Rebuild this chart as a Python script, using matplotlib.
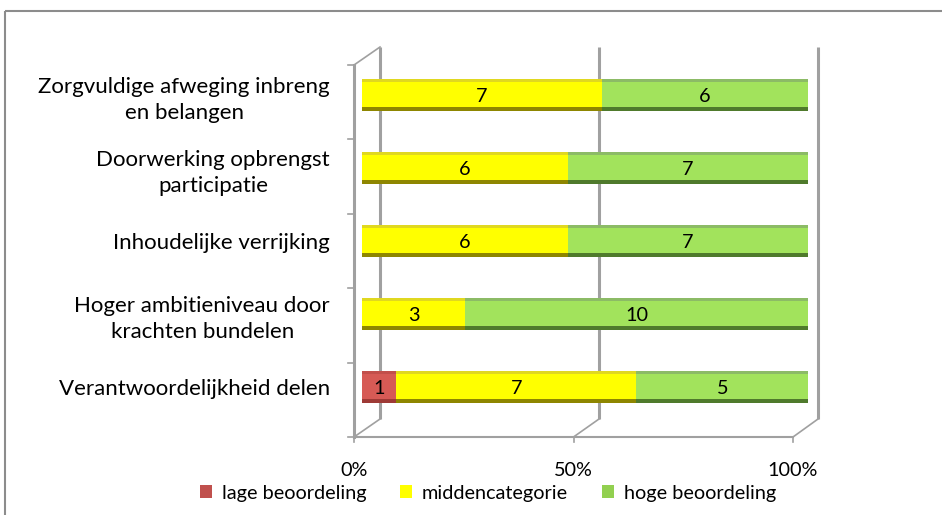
import matplotlib
matplotlib.use("Agg")
import matplotlib.pyplot as plt
import numpy as np
from matplotlib.patches import Patch, Rectangle

categories = [
    "Zorgvuldige afweging inbreng\nen belangen",
    "Doorwerking opbrengst\nparticipatie",
    "Inhoudelijke verrijking",
    "Hoger ambitieniveau door\nkrachten bundelen",
    "Verantwoordelijkheid delen",
]
series_names = ["lage beoordeling", "middencategorie", "hoge beoordeling"]
lage = [0, 0, 0, 0, 1]
midden = [7, 6, 6, 3, 7]
hoge = [6, 7, 7, 10, 5]
x_ticks = [0.0, 0.5, 1.0]
x_tick_labels = ["0%", "50%", "100%"]

base_colors = ["#D65A55", "#FFFF00", "#A2E35C"]
dark_colors = ["#9E3A36", "#8E8600", "#4F7A2C"]
top_colors = ["#C24F4B", "#E0D820", "#8CBB66"]
legend_colors = ["#C0504D", "#FFFF00", "#92D050"]

plt.rcParams["font.family"] = ["Lato", "DejaVu Sans"]
FS = 16
FS_SMALL = 14.3

W, H = 942, 515
fig = plt.figure(figsize=(W / 100, H / 100), dpi=100)

# pixel-coordinate layer for the pseudo-3D frame
deco = fig.add_axes([0, 0, 1, 1], zorder=0)
deco.set_xlim(0, W)
deco.set_ylim(H, 0)
deco.axis("off")
deco.add_patch(Rectangle((5, 11), W + 10, H + 10, fill=False, ec="#8C8C8C", lw=1.5))

front_x0, front_x1, floor_y = 354, 793, 437
back_x0, back_x1, back_top, back_floor = 380, 818, 47, 419
grid_c = "#A0A0A0"
for v in x_ticks:
    fx = front_x0 + v * (front_x1 - front_x0)
    bx = back_x0 + v * (back_x1 - back_x0)
    deco.plot([bx, bx], [back_top, back_floor], color=grid_c, lw=2.2, solid_capstyle="butt")
    deco.plot([fx, bx], [floor_y, back_floor], color=grid_c, lw=1.2)
    deco.plot([fx, fx], [floor_y, floor_y + 5], color=grid_c, lw=1.2)
for v, lab in zip(x_ticks, x_tick_labels):
    fx = front_x0 + v * (front_x1 - front_x0)
    deco.text(fx, 470, lab, ha="center", va="center", fontsize=FS_SMALL)
deco.plot([front_x0, front_x1], [floor_y, floor_y], color=grid_c, lw=1.5)
deco.plot([front_x0, front_x0], [65, floor_y], color=grid_c, lw=2.2)
deco.plot([front_x0, back_x0], [65, back_top], color=grid_c, lw=1.2)
for yb in np.linspace(65, floor_y, len(categories) + 1):
    deco.plot([348, front_x0], [yb, yb], color=grid_c, lw=1.2)

# bars
ax = fig.add_axes([362 / W, 1 - 423.5 / H, 446 / W, 365 / H], zorder=1)
ax.patch.set_alpha(0)
y = np.arange(len(categories))
counts = np.array([lage, midden, hoge], dtype=float)
shares = counts / counts.sum(axis=0)
left = np.zeros(len(categories))
bh = 0.44
for i in range(3):
    ax.barh(y, shares[i], left=left, height=bh, color=base_colors[i], lw=0)
    ax.barh(y + bh * 0.43, shares[i], left=left, height=bh * 0.14, color=dark_colors[i], lw=0)
    ax.barh(y - bh * 0.45, shares[i], left=left, height=bh * 0.10, color=top_colors[i], lw=0)
    for yi, (c, s, l) in enumerate(zip(counts[i], shares[i], left)):
        if c > 0:
            ax.text(l + s / 2, yi + 0.02, f"{int(c)}", ha="center", va="center", fontsize=FS_SMALL)
    left = left + shares[i]

ax.set_xlim(0, 1)
ax.set_ylim(len(categories) - 0.5, -0.5)
ax.set_xticks([])
ax.set_yticks(y)
ax.set_yticklabels(categories, fontsize=FS, multialignment="center", linespacing=1.4)
ax.tick_params(axis="y", length=0, pad=23)
for sp in ax.spines.values():
    sp.set_visible(False)

handles = [Patch(facecolor=c, edgecolor="none") for c in legend_colors]
fig.legend(handles, series_names, loc="center", bbox_to_anchor=(488 / W, 1 - 493 / H), ncol=3,
           frameon=False, fontsize=FS_SMALL, handlelength=0.6, handleheight=0.6, handletextpad=0.5,
           columnspacing=1.7)

fig.savefig("out.png", dpi=100)
